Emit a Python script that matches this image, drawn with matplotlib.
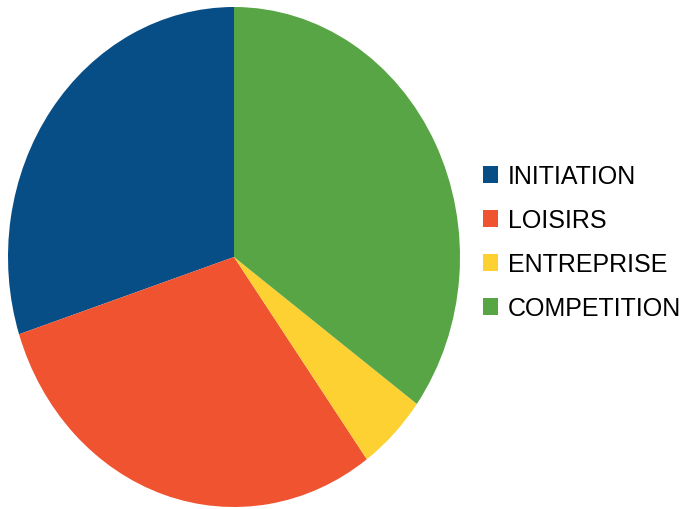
import matplotlib
matplotlib.use("Agg")
import matplotlib.pyplot as plt

# repartition des licencies par type d'activite
labels = ["INITIATION", "LOISIRS", "ENTREPRISE", "COMPETITION"]
values = [30, 30, 5, 35]
colors = ["#074e87", "#f05330", "#fdd131", "#58a546"]

plt.rcParams["font.family"] = ["Liberation Sans", "DejaVu Sans"]

W, H = 683, 509
fig = plt.figure(figsize=(W / 100, H / 100), dpi=100)

# camembert legerement ecrase (ellipse 452 x 500 px)
ax = fig.add_axes([8 / W, 2 / H, 452 / W, 500 / H])
wedges, _ = ax.pie(values, colors=colors, startangle=90, counterclock=True,
                   radius=1, wedgeprops={"linewidth": 0})
ax.set_xlim(-1, 1)
ax.set_ylim(-1, 1)
ax.set_aspect("auto")
ax.axis("off")

fig.legend(wedges, labels, loc="center left",
           bbox_to_anchor=(483 / W, (H - 242.5) / H),
           frameon=False, fontsize=18, borderpad=0, borderaxespad=0,
           handlelength=0.6, handleheight=0.64, handletextpad=0.4,
           labelspacing=0.8)

fig.savefig("out.png", dpi=100)
